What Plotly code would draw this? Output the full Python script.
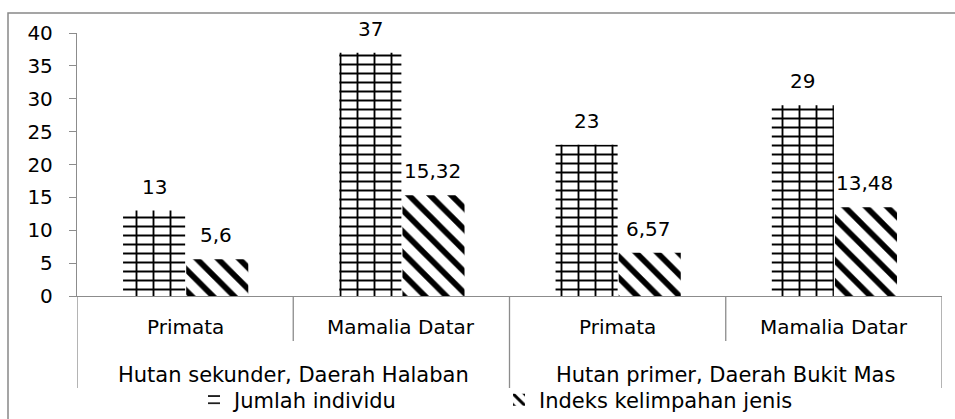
import plotly.graph_objects as go

# ---- data ----
groups = ["Hutan sekunder, Daerah Halaban", "Hutan primer, Daerah Bukit Mas"]
subcats = ["Primata", "Mamalia Datar", "Primata", "Mamalia Datar"]
series_names = ["Jumlah individu", "Indeks kelimpahan jenis"]
jumlah = [13, 37, 23, 29]
indeks = [5.6, 15.32, 6.57, 13.48]
y_ticks = [0, 5, 10, 15, 20, 25, 30, 35, 40]

FONT = "DejaVu Sans"
GRAY = "#8c8c8c"
FS = 20

xs = list(range(len(subcats)))
W = 0.287

def fmt(v):
    s = ("%g" % v)
    return s.replace(".", ",")

fig = go.Figure()
# Jumlah: brick rows (horizontal lines)
fig.add_trace(go.Bar(
    x=xs, y=jumlah, name=series_names[0], offset=-W, width=W, legendrank=1,
    marker=dict(color="white", line=dict(width=0),
                pattern=dict(shape="-", size=9, solidity=0.22, fgcolor="black", bgcolor="white",
                             fillmode="replace")),
))
# Jumlah: brick joints (vertical lines), same bars
fig.add_trace(go.Bar(
    x=xs, y=jumlah, name=series_names[0], offset=-W, width=W, showlegend=False, hoverinfo="skip",
    marker=dict(color="rgba(0,0,0,0)", line=dict(width=0),
                pattern=dict(shape="|", size=17, solidity=0.11, fgcolor="black",
                             bgcolor="rgba(0,0,0,0)", fillmode="replace")),
))
# Indeks: diagonal hatch
fig.add_trace(go.Bar(
    x=xs, y=indeks, name=series_names[1], offset=0.005, width=W, legendrank=2,
    marker=dict(color="white", line=dict(width=0),
                pattern=dict(shape="\\", size=15, solidity=0.38, fgcolor="black", bgcolor="white",
                             fillmode="replace")),
))

annotations = []
for x, v in zip(xs, jumlah):
    annotations.append(dict(x=x - W / 2, y=v, xref="x", yref="y", text=fmt(v), showarrow=False,
                            yanchor="bottom", yshift=10, font=dict(family=FONT, size=FS, color="black")))
for x, v in zip(xs, indeks):
    annotations.append(dict(x=x + W / 2, y=v, xref="x", yref="y", text=fmt(v), showarrow=False,
                            yanchor="bottom", yshift=10, font=dict(family=FONT, size=FS, color="black")))

PH = 263.0
def py(pix):
    return (296 - pix) / PH

for x, s in zip(xs, subcats):
    annotations.append(dict(x=x, y=py(327), xref="x", yref="paper", text=s, showarrow=False,
                            yanchor="middle", font=dict(family=FONT, size=FS, color="black")))
for gi, g in enumerate(groups):
    annotations.append(dict(x=gi * 2 + 0.5, y=py(375), xref="x", yref="paper", text=g, showarrow=False,
                            yanchor="middle", font=dict(family=FONT, size=21, color="black")))

shapes = []
for xv in [0.5, 2.5]:
    shapes.append(dict(type="line", xref="x", yref="paper", x0=xv, x1=xv, y0=0, y1=py(341),
                       line=dict(color=GRAY, width=1.3)))
for xv in [-0.5, 1.5, 3.5]:
    shapes.append(dict(type="line", xref="x", yref="paper", x0=xv, x1=xv, y0=0, y1=py(388),
                       line=dict(color=GRAY, width=1.3)))
shapes.append(dict(type="rect", xref="paper", yref="paper",
                   x0=(8 - 77) / 865.0, x1=(975 - 77) / 865.0, y0=py(440), y1=py(13),
                   line=dict(color="#888888", width=1.5), fillcolor="rgba(0,0,0,0)", layer="below"))

fig.update_layout(
    width=955, height=419,
    margin=dict(l=77, r=13, t=33, b=123, autoexpand=False),
    paper_bgcolor="white", plot_bgcolor="white",
    barmode="overlay",
    font=dict(family=FONT, size=FS, color="black"),
    xaxis=dict(range=[-0.5, 3.5], showticklabels=False, showgrid=False, zeroline=False,
               showline=True, linecolor=GRAY, linewidth=1.3, ticks=""),
    yaxis=dict(range=[0, 40], tickvals=y_ticks, showgrid=False, zeroline=False,
               showline=True, linecolor=GRAY, linewidth=1.3, ticks="outside", ticklen=7,
               tickcolor=GRAY, tickwidth=1.3, ticklabelstandoff=12,
               tickfont=dict(family=FONT, size=FS, color="black")),
    legend=dict(orientation="h", x=194 / 955.0, xref="container", xanchor="left",
                y=(419 - 400) / 419.0, yref="container", yanchor="middle",
                entrywidth=260, entrywidthmode="pixels", itemwidth=30,
                font=dict(family=FONT, size=21, color="black"), bgcolor="rgba(0,0,0,0)",
                tracegroupgap=0),
    annotations=annotations,
    shapes=shapes,
)

fig.write_html("out.html", config={"displayModeBar": False},
               post_script="document.body.style.margin='0';document.body.style.padding='0';"
                           "document.body.style.overflow='hidden';")
